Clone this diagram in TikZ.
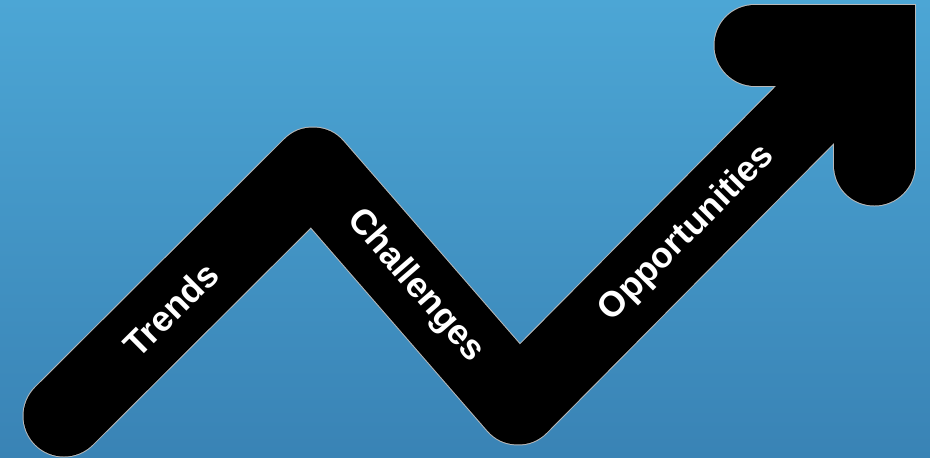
\documentclass[tikz,border=0pt]{standalone}
\usepackage{fontspec}
\setmainfont{Liberation Sans}

\definecolor{skytop}{RGB}{76,166,213}
\definecolor{skybottom}{RGB}{57,131,181}

\tikzset{
  trendline/.style={line width=81pt, line cap=round, line join=round},
  trendhead/.style={line width=81pt, line cap=round, line join=miter},
  trendrim/.style={gray!55, line width=83pt},
  trendlabel/.style={text=white, font=\fontsize{35.5}{42}\selectfont\bfseries, sloped, inner sep=0pt}
}

\begin{document}
\begin{tikzpicture}[x=1pt, y=-1pt]
  % sky background
  \shade[top color=skytop, bottom color=skybottom] (0,0) rectangle (930,458);
  \useasboundingbox (0,0) rectangle (930,458);

  % corners of the zigzag
  \coordinate (start) at (64,416);
  \coordinate (peak) at (313,168);
  \coordinate (valley) at (518,404);
  \coordinate (shaftend) at (862,57);
  \coordinate (tip) at (874,45);
  \coordinate (headleft) at (755,45);
  \coordinate (headdown) at (874,165);

  % light rim first, black body on top
  \draw[trendline, trendrim] (start) -- (peak) -- (valley) -- (shaftend);
  \draw[trendhead, trendrim] (headleft) -- (tip) -- (headdown);
  \draw[trendline] (start) -- (peak) -- (valley) -- (shaftend);
  \draw[trendhead] (headleft) -- (tip) -- (headdown);

  % labels along the segments
  \path (start) -- node[trendlabel, pos=0.43] {Trends} (peak);
  \path (peak) -- node[trendlabel, pos=0.5] {Challenges} (valley);
  \path (valley) -- node[trendlabel, pos=0.475] {Opportunities} (tip);
\end{tikzpicture}
\end{document}
